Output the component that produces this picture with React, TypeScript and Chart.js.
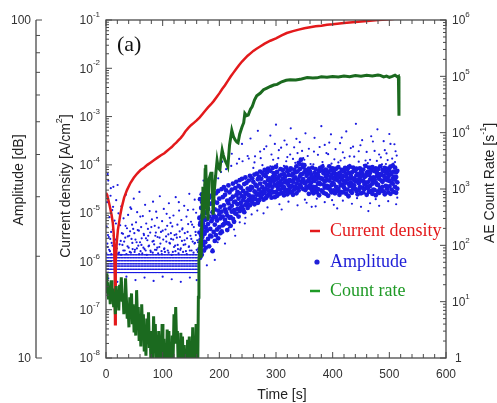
import React, { useEffect, useRef } from 'react';
import { Chart, registerables } from 'chart.js';

Chart.register(...registerables);

// ---------- tick labels ----------
const timeTicks = [0, 100, 200, 300, 400, 500, 600];
const currentExponents = [-8, -7, -6, -5, -4, -3, -2, -1];
const countExponents = [0, 1, 2, 3, 4, 5, 6];
const amplitudeTicks = [10, 100];

// ---------- current density [A/cm2] vs time [s] ----------
const currentDensity: [number, number][] = [
  [0, 2.63e-5], [2, 2.4e-5], [4, 1.91e-5], [6, 1.51e-5], [8, 1.17e-5], [10, 8.9e-6], [12, 6.3e-6],
  [13.5, 4.0e-6], [14.5, 2.0e-6], [15.5, 5.0e-7], [16, 5.0e-8], [16.8, 2.5e-7], [17.5, 1.0e-6],
  [19, 2.5e-6], [21, 4.5e-6], [23, 6.3e-6], [25, 8.9e-6], [28, 1.35e-5], [32, 2.1e-5], [37, 3.0e-5],
  [43, 4.2e-5], [49, 5.4e-5], [55, 6.6e-5], [61, 7.8e-5], [67, 8.7e-5], [73, 1.0e-4], [79, 1.12e-4],
  [85, 1.26e-4], [91, 1.41e-4], [97, 1.58e-4], [103, 1.74e-4], [107, 1.91e-4], [112, 2.14e-4],
  [116, 2.34e-4], [120, 2.63e-4], [124, 2.88e-4], [128, 3.24e-4], [132, 3.63e-4], [136, 4.17e-4],
  [140, 4.9e-4], [145, 5.75e-4], [150, 6.61e-4], [155, 7.41e-4], [160, 8.32e-4], [165, 9.55e-4],
  [170, 1.12e-3], [175, 1.32e-3], [180, 1.55e-3], [185, 1.78e-3], [190, 2.09e-3], [195, 2.51e-3],
  [200, 3.02e-3], [205, 3.72e-3], [210, 4.47e-3], [215, 5.5e-3], [220, 6.76e-3], [225, 8.13e-3],
  [230, 9.77e-3], [235, 1.17e-2], [240, 1.38e-2], [245, 1.58e-2], [250, 1.82e-2], [255, 2.04e-2],
  [260, 2.29e-2], [265, 2.51e-2], [272, 2.82e-2], [280, 3.24e-2], [290, 3.72e-2], [300, 4.17e-2],
  [310, 4.79e-2], [319, 5.37e-2], [330, 5.89e-2], [340, 6.31e-2], [350, 6.76e-2], [360, 7.08e-2],
  [370, 7.41e-2], [380, 7.59e-2], [390, 7.94e-2], [400, 8.13e-2], [420, 8.71e-2], [440, 9.12e-2],
  [461, 9.55e-2], [480, 1.0e-1], [495, 1.02e-1], [506, 1.05e-1], [512, 1.07e-1],
];

// ---------- AE count rate [1/s] vs time [s] ----------
const countRate: [number, number][] = [
  [0, 32], [1.5, 14], [3, 22], [4.5, 11], [6, 18], [7.5, 9], [9, 24], [10.5, 13], [12, 17], [13.5, 8],
  [15, 12], [16.5, 6], [18, 19], [19.5, 10], [21, 15], [22.5, 7], [24, 20], [25.5, 12], [27, 27],
  [28.5, 10], [30, 14], [31.5, 6], [33, 9], [34.5, 26], [36, 11], [37.5, 5], [39, 8], [40.5, 3.5],
  [42, 12], [43.5, 6], [45, 14], [46.5, 4], [48, 9], [49.5, 3], [51, 6], [52.5, 2.5], [54, 16],
  [55.5, 5], [57, 8], [58.5, 2], [60, 5], [61.5, 1.6], [63, 9], [64.5, 3], [66, 6], [67.5, 1.3],
  [69, 3], [70.5, 1.1], [72, 5], [73.5, 2], [75, 6.5], [76.5, 1.5], [78, 2.5], [79.5, 0.7], [81, 3],
  [82.5, 0.9], [84, 5.5], [85.5, 1.4], [87, 4], [88.5, 0.8], [90, 2.5], [91.5, 0.7], [93, 3],
  [94.5, 1.2], [96, 2], [97.5, 0.6], [99, 4], [100.5, 0.8], [102, 2.2], [103.5, 0.6], [105, 1.3],
  [106.5, 0.5], [108, 3.2], [109.5, 1], [111, 3], [112.5, 0.6], [114, 1.6], [115.5, 0.5], [117, 2.5],
  [118.5, 1], [120, 6], [121.5, 1.8], [123, 8], [124.5, 2], [126, 3], [127.5, 0.7], [129, 1.8],
  [130.5, 0.6], [132, 2.8], [133.5, 0.8], [135, 2.4], [136.5, 0.5], [138, 1.7], [139.5, 0.6],
  [141, 1.2], [142.5, 0.5], [144, 2.1], [145.5, 0.7], [147, 2.4], [148.5, 0.5], [150, 1.5],
  [151.5, 0.6], [153, 3.5], [154.5, 0.7], [156, 1.6], [157.5, 0.5], [159, 4], [160.5, 0.6], [162, 0.8],
  [163, 12], [164, 55], [166, 125], [168, 60], [170, 800], [171, 1100], [173, 300], [175, 2200],
  [176, 2700], [178, 600], [180, 280], [182, 1500], [185, 1900], [187, 1900], [189, 350], [191, 900],
  [194, 2000], [196, 3200], [198, 2400], [201, 2200], [203, 3500], [205, 4900], [207, 4000],
  [210, 3200], [213, 2800], [215, 2500], [218, 6000], [222, 11000], [225, 8500], [228, 7400],
  [231, 6800], [233, 6600], [236, 9500], [240, 12600], [243, 15000], [245, 22000], [248, 20000],
  [251, 20500], [255, 26000], [258, 29000], [262, 38000], [266, 45000], [272, 50000], [278, 58000],
  [284, 62000], [290, 66000], [296, 70000], [302, 72000], [310, 80000], [318, 85000], [325, 87000],
  [335, 86000], [345, 90000], [355, 95000], [365, 93000], [372, 94000], [380, 98000], [390, 96000],
  [400, 99000], [410, 97000], [420, 101000], [430, 98000], [440, 103000], [450, 100000],
  [460, 104000], [470, 101000], [480, 106000], [484, 104000], [490, 98000], [495, 101000],
  [500, 96000], [505, 100000], [510, 105000], [514, 98000], [516, 100000], [517, 20000],
];

// ---------- AE amplitude [dB] ----------
// threshold band before ~163 s (many hits at nearly the same level)
const bandTimes = [1, 6, 11, 16, 21, 26, 31, 36, 41, 46, 51, 56, 61, 66, 71, 76, 81, 86, 91, 96, 101,
  106, 111, 116, 121, 126, 131, 136, 141, 146, 151, 156, 161];
const bandLevels = [17.9, 18.3, 18.7, 19.0, 19.4, 19.8, 20.2];

// scattered hits before the jump
const amplitudePre: [number, number][] = [
  [1, 24.5], [2, 28.9], [3, 21.3], [4, 33.5], [5, 22.8], [6, 26.1], [7, 20.7], [8, 30.2], [9, 23.6],
  [10, 21.9], [11, 27.4], [12, 24.0], [13, 32.1], [14, 20.9], [15, 25.5], [17, 22.4], [18, 29.3],
  [19, 21.1], [21, 23.9], [22, 26.8], [23, 20.5], [25, 24.7], [26, 22.2], [27, 28.1], [29, 21.6],
  [30, 23.3], [31, 25.9], [33, 20.8], [34, 22.7], [35, 30.4], [37, 24.2], [38, 21.4], [39, 26.5],
  [41, 23.0], [42, 20.6], [43, 27.9], [45, 22.5], [46, 24.8], [47, 21.0], [49, 29.6], [50, 23.4],
  [51, 20.9], [53, 25.2], [54, 22.0], [55, 27.0], [57, 21.5], [58, 23.8], [59, 31.0], [61, 20.7],
  [62, 24.4], [63, 22.6], [65, 26.3], [66, 21.2], [67, 23.1], [69, 28.4], [70, 20.8], [71, 25.0],
  [73, 22.3], [74, 24.1], [75, 21.4], [77, 27.2], [78, 23.5], [79, 20.6], [81, 25.7], [82, 22.1],
  [83, 29.0], [85, 21.7], [86, 24.6], [87, 23.0], [89, 20.9], [90, 26.0], [91, 22.8], [93, 24.3],
  [94, 21.3], [95, 30.1], [97, 23.6], [98, 20.7], [99, 25.4], [101, 22.4], [102, 27.6], [103, 21.1],
  [105, 24.0], [106, 22.9], [107, 26.7], [109, 20.8], [110, 23.2], [111, 28.7], [113, 21.8],
  [114, 25.1], [115, 22.5], [117, 24.5], [118, 20.6], [119, 26.4], [121, 23.1], [122, 21.5],
  [123, 29.9], [125, 22.7], [126, 24.8], [127, 21.0], [129, 27.3], [130, 23.7], [131, 20.9],
  [133, 25.6], [134, 22.2], [135, 24.2], [137, 21.6], [138, 28.2], [139, 23.4], [141, 20.7],
  [142, 26.2], [143, 22.6], [145, 24.9], [146, 21.3], [147, 30.6], [149, 23.0], [150, 25.3],
  [151, 20.8], [153, 22.1], [154, 27.5], [155, 24.4], [157, 21.9], [158, 23.6], [159, 26.9],
  [161, 22.3], [162, 20.6], [163, 25.8],
  [4, 17.2], [20, 16.8], [36, 17.4], [52, 17.0], [68, 17.3], [84, 16.9], [100, 17.4], [116, 17.1],
  [132, 16.8], [148, 17.3], [160, 17.0],
  [0.5, 20.4], [2.5, 21.8], [3.5, 23.1], [5.5, 20.9], [7.5, 22.5], [9.5, 20.3], [11.5, 21.5],
  [13.5, 23.0], [16, 20.6], [17.5, 25.0], [19.5, 22.0], [21.5, 20.4], [24, 21.7], [26.5, 20.2],
  [28, 23.4], [30.5, 20.8], [32, 22.1], [34.5, 24.6], [36, 20.3], [38.5, 22.9], [40, 21.2],
  [42.5, 23.7], [44, 20.5], [46.5, 21.9], [48, 24.1], [50.5, 20.6], [52, 22.4], [54.5, 21.1],
  [56, 23.9], [58.5, 20.3], [60, 22.0], [62.5, 21.6], [64, 20.4], [66.5, 23.3], [68, 21.0],
  [70.5, 22.6], [72, 20.2], [74.5, 23.0], [76, 21.5], [78.5, 20.8], [80, 24.4], [82.5, 20.5],
  [84, 22.2], [86.5, 20.9], [88, 23.5], [90.5, 21.2], [92, 20.4], [94.5, 22.7], [96, 21.8],
  [98.5, 20.3], [100, 23.8], [102.5, 21.0], [104, 20.6], [106.5, 22.1], [108, 24.6], [110.5, 20.5],
  [112, 21.9], [114.5, 23.4], [116, 20.2], [118.5, 22.4], [120, 21.3], [122.5, 20.7], [124, 23.2],
  [126.5, 21.6], [128, 20.4], [130.5, 22.8], [132, 21.1], [134.5, 24.0], [136, 20.6], [138.5, 22.3],
  [140, 21.7], [142.5, 20.3], [144, 23.6], [146.5, 21.4], [148, 20.8], [150.5, 22.5], [152, 24.8],
  [154.5, 20.5], [156, 21.8], [158.5, 23.1], [160, 20.9], [162.5, 22.0],
  [3, 35.0], [8.5, 31.8], [12.5, 28.0], [20.5, 32.5], [44.5, 27.6], [60.5, 26.2], [88.5, 27.1],
  [112.5, 26.0], [128.5, 28.9], [144.5, 27.4], [156.5, 29.4],
];

// dense cloud after the jump: [time, hit, hit, hit]
const amplitudeCore: [number, number, number, number][] = [
  [165, 21.0, 23.5, 26.0], [166, 19.8, 24.8, 29.5], [167, 22.4, 25.2, 20.6], [168, 23.0, 27.8, 21.5],
  [169, 20.2, 24.0, 30.5], [170, 22.8, 26.4, 28.9], [171, 21.6, 25.0, 23.7], [172, 24.5, 27.2, 22.1],
  [173, 20.8, 26.0, 29.3], [174, 23.3, 28.4, 25.6], [175, 22.0, 24.4, 30.8], [176, 21.2, 26.9, 24.3],
  [178, 23.8, 25.7, 28.2], [180, 22.5, 27.6, 24.9], [182, 21.4, 26.2, 29.8], [184, 24.1, 28.6, 23.0],
  [186, 22.9, 25.4, 30.2], [188, 20.7, 27.0, 25.8], [190, 23.6, 29.1, 26.4], [192, 24.8, 27.5, 22.2],
  [194, 23.1, 26.1, 30.7], [196, 25.5, 28.8, 24.0], [198, 22.6, 27.3, 31.2], [200, 24.4, 29.6, 26.6],
  [202, 25.9, 28.0, 23.4], [204, 23.7, 27.1, 31.6], [206, 26.2, 29.9, 24.7], [208, 24.9, 28.3, 32.0],
  [210, 25.6, 30.4, 27.5], [212, 27.0, 25.1, 31.3], [214, 26.4, 29.2, 23.9], [216, 25.0, 28.7, 32.4],
  [218, 27.7, 30.9, 26.0], [220, 26.1, 29.5, 24.6], [222, 28.2, 31.5, 27.1], [224, 25.8, 30.0, 32.8],
  [226, 27.4, 28.9, 25.3], [228, 29.0, 31.8, 26.8], [230, 26.7, 30.3, 33.2], [232, 28.5, 27.6, 31.0],
  [234, 29.6, 32.3, 26.2], [236, 27.2, 30.7, 33.6], [238, 28.8, 31.9, 27.9], [240, 30.1, 28.1, 33.9],
  [242, 27.5, 31.2, 29.3], [244, 29.9, 32.7, 27.0], [246, 28.4, 30.6, 34.2], [248, 30.8, 29.0, 33.0],
  [250, 28.6, 31.7, 27.8], [252, 30.3, 33.5, 29.4], [254, 31.4, 28.3, 34.6], [256, 29.2, 32.1, 30.0],
  [258, 31.9, 28.9, 34.0], [260, 30.0, 33.2, 29.6], [262, 31.1, 34.9, 28.5], [264, 29.5, 32.6, 30.9],
  [266, 32.2, 30.4, 35.1], [268, 30.6, 33.8, 28.8], [270, 31.5, 29.3, 34.4], [272, 32.8, 30.2, 35.6],
  [274, 30.9, 33.9, 29.9], [276, 32.0, 35.3, 30.5], [278, 31.2, 29.4, 34.8], [280, 33.1, 30.8, 36.0],
  [282, 31.7, 34.5, 29.7], [284, 32.5, 30.1, 35.4], [286, 33.6, 31.4, 36.3], [288, 30.7, 34.0, 32.3],
  [290, 32.9, 35.8, 30.4], [292, 31.3, 33.7, 29.8], [294, 34.3, 32.1, 36.5], [296, 30.9, 33.4, 35.2],
  [298, 32.6, 29.9, 34.7], [300, 33.8, 31.0, 36.8], [302, 32.2, 35.5, 30.2], [304, 31.6, 34.1, 33.0],
  [306, 34.6, 32.4, 30.6], [308, 33.3, 36.2, 31.5], [310, 30.8, 34.9, 32.7], [312, 33.9, 31.9, 36.0],
  [314, 32.0, 35.0, 30.3], [316, 34.4, 33.1, 31.2], [318, 31.4, 36.6, 33.5], [320, 33.0, 30.5, 35.7],
  [322, 34.8, 32.5, 31.1], [324, 31.8, 35.9, 33.6], [326, 33.4, 30.9, 36.4], [328, 32.3, 34.7, 31.0],
  [330, 35.1, 33.2, 30.4], [332, 31.5, 36.1, 33.9], [334, 34.2, 32.0, 35.4], [336, 32.8, 30.7, 36.9],
  [338, 35.6, 33.7, 31.8], [340, 33.5, 37.8, 31.3], [342, 36.2, 34.4, 32.6], [344, 34.9, 38.6, 32.1],
  [346, 37.3, 35.0, 33.2], [348, 33.8, 36.7, 31.6], [350, 35.4, 32.9, 37.2], [352, 33.1, 36.0, 31.4],
  [354, 34.6, 32.2, 35.8], [356, 31.9, 35.1, 33.3], [358, 33.7, 30.6, 36.3], [360, 32.4, 35.6, 34.0],
  [362, 34.9, 31.7, 33.0], [364, 31.2, 34.3, 36.6], [366, 33.6, 32.1, 30.7], [368, 35.3, 33.4, 31.5],
  [370, 32.0, 36.2, 34.5], [372, 33.9, 30.9, 35.0], [374, 31.6, 34.8, 32.8], [376, 35.7, 33.0, 30.3],
  [378, 32.7, 36.5, 34.1], [380, 34.0, 31.3, 35.9], [382, 31.1, 33.8, 36.8], [384, 35.2, 32.6, 30.8],
  [386, 33.3, 35.8, 31.9], [388, 30.6, 34.4, 36.1], [390, 34.7, 32.3, 33.6], [392, 31.8, 35.4, 30.2],
  [394, 33.5, 36.9, 32.0], [396, 35.9, 31.4, 34.3], [398, 32.5, 34.9, 30.9], [400, 34.1, 33.0, 36.4],
  [402, 31.3, 35.5, 32.7], [404, 33.8, 30.7, 35.1], [406, 32.1, 36.3, 34.6], [408, 35.0, 33.6, 31.2],
  [410, 31.7, 34.2, 36.7], [412, 33.2, 30.4, 35.3], [414, 34.8, 32.4, 31.0], [416, 32.6, 36.0, 33.9],
  [418, 30.9, 34.5, 35.8], [420, 35.6, 32.0, 33.4], [422, 33.0, 31.5, 36.5], [424, 34.4, 35.1, 30.6],
  [426, 31.5, 33.7, 36.2], [428, 35.3, 32.8, 30.1], [430, 32.3, 36.8, 34.0], [432, 34.6, 31.1, 33.1],
  [434, 30.8, 35.4, 32.5], [436, 33.9, 36.6, 31.7], [438, 32.4, 34.0, 35.9], [440, 35.8, 31.6, 33.3],
  [442, 31.2, 34.7, 36.3], [444, 33.6, 30.5, 35.0], [446, 34.9, 32.9, 31.4], [448, 32.0, 36.4, 34.2],
  [450, 30.7, 33.5, 35.6], [452, 35.1, 31.9, 34.7], [454, 33.4, 36.1, 30.9], [456, 31.6, 34.3, 32.7],
  [458, 34.5, 37.0, 33.0], [460, 32.2, 35.2, 30.4], [462, 35.5, 33.1, 31.8], [464, 31.0, 34.8, 36.6],
  [466, 33.7, 32.3, 35.3], [468, 35.9, 31.2, 34.1], [470, 32.8, 36.7, 30.6], [472, 34.2, 33.3, 31.5],
  [474, 31.4, 35.7, 33.8], [476, 33.1, 30.3, 36.4], [478, 35.4, 32.6, 34.5], [480, 32.5, 36.2, 31.1],
  [482, 34.7, 33.9, 30.8], [484, 31.8, 35.0, 36.9], [486, 33.5, 31.3, 34.8], [488, 36.0, 32.1, 33.2],
  [490, 31.1, 34.6, 35.7], [492, 33.8, 36.5, 30.5], [494, 32.3, 34.1, 35.5], [496, 35.2, 31.7, 33.6],
  [498, 30.9, 36.3, 34.3], [500, 33.4, 32.2, 35.9], [502, 34.9, 30.6, 36.8], [504, 31.5, 35.3, 33.0],
  [506, 33.9, 32.8, 37.1], [508, 35.6, 31.0, 34.4], [510, 32.1, 36.6, 33.7], [512, 34.3, 30.8, 35.4],
  [514, 31.7, 35.8, 33.1],
];

// sparse hits around the cloud after the jump
const amplitudePost: [number, number][] = [
  [172, 33.5], [180, 31.0], [185, 35.2], [192, 19.5], [198, 34.0], [205, 38.1], [210, 21.8],
  [215, 36.5], [222, 40.2], [228, 23.0], [235, 38.8], [240, 43.0], [245, 25.0], [250, 39.6],
  [255, 44.6], [262, 37.9], [268, 47.0], [272, 40.8], [278, 26.8], [283, 42.3], [290, 45.5],
  [295, 38.6], [300, 49.0], [305, 41.2], [310, 27.5], [315, 44.0], [320, 39.3], [326, 47.8],
  [332, 42.0], [338, 40.4], [342, 43.5], [348, 39.0], [352, 46.2], [358, 41.6], [363, 28.0],
  [368, 44.8], [374, 39.9], [380, 48.5], [386, 42.7], [392, 40.1], [397, 45.9], [403, 38.7],
  [408, 27.7], [413, 43.2], [418, 40.6], [424, 46.8], [430, 39.5], [436, 42.2], [441, 49.3],
  [446, 40.9], [452, 44.1], [458, 38.4], [463, 27.2], [468, 45.3], [474, 41.0], [479, 47.5],
  [485, 39.2], [490, 43.8], [495, 40.3], [500, 46.0], [505, 38.9], [509, 42.9], [513, 39.7],
  [302, 37.5], [318, 38.2], [334, 37.8], [350, 38.6], [366, 37.4], [382, 38.0], [398, 37.6],
  [414, 38.4], [430, 37.3], [446, 38.1], [462, 37.7], [478, 38.3], [494, 37.5], [510, 38.0],
  [260, 36.5], [276, 37.2], [290, 36.9],
  [306, 28.5], [322, 29.0], [338, 28.3], [354, 28.8], [370, 28.1], [386, 28.9], [402, 28.4],
  [418, 29.2], [434, 28.6], [450, 28.0], [466, 28.7], [482, 28.2], [498, 29.1], [512, 28.5],
  [168, 28.0], [174, 32.5], [178, 18.8], [183, 33.8], [188, 21.0], [193, 34.6], [197, 22.0],
  [203, 35.5], [207, 23.5], [212, 36.2], [217, 24.3], [221, 37.0], [226, 24.0], [231, 37.6],
  [236, 25.2], [241, 38.2], [246, 26.0], [252, 38.9], [257, 26.6], [263, 39.5], [267, 27.3],
  [273, 39.0], [279, 41.5], [285, 27.9], [292, 40.0], [298, 43.0], [304, 39.0], [309, 41.9],
  [314, 37.0], [319, 42.8], [325, 40.0], [330, 38.8], [336, 44.5], [341, 37.1], [346, 41.0],
  [351, 29.4], [356, 39.6], [361, 37.5], [367, 40.8], [372, 29.6], [377, 42.1], [383, 37.3],
  [389, 40.4], [394, 43.4], [399, 29.3], [405, 41.5], [410, 37.9], [416, 44.9], [421, 39.1],
  [427, 37.0], [432, 41.8], [438, 39.4], [443, 29.7], [449, 42.6], [455, 37.2], [460, 40.7],
  [466, 38.6], [471, 43.7], [476, 29.5], [482, 40.0], [487, 37.4], [492, 41.2], [497, 38.5],
  [502, 43.0], [507, 37.6], [511, 40.9], [514, 29.8],
];

// ---------- styling ----------
const RED = '#e3191b';
const GREEN = '#1b6a1f';
const BLUE = '#1a1ae0';
const AXIS = '#4a4a4a';
const TEXT = '#333333';
const SANS = '"Liberation Sans", Arial, Helvetica, sans-serif';
const SERIF = '"Liberation Serif", "Times New Roman", serif';

type Run = [string, boolean];

function drawRuns(
  ctx: CanvasRenderingContext2D, runs: Run[], x: number, y: number,
  align: 'left' | 'right' | 'center', rotate: boolean, size: number, supSize: number, raise: number,
) {
  ctx.save();
  ctx.translate(x, y);
  if (rotate) ctx.rotate(-Math.PI / 2);
  ctx.textBaseline = 'middle';
  ctx.textAlign = 'left';
  const widths = runs.map(([t, s]) => {
    ctx.font = `${s ? supSize : size}px ${SANS}`;
    return ctx.measureText(t).width;
  });
  const total = widths.reduce((a, b) => a + b, 0);
  let cx = align === 'left' ? 0 : align === 'right' ? -total : -total / 2;
  runs.forEach(([t, s], i) => {
    ctx.font = `${s ? supSize : size}px ${SANS}`;
    ctx.fillText(t, cx, s ? -raise : 0);
    cx += widths[i];
  });
  ctx.restore();
}

const decorPlugin = {
  id: 'decor',
  afterDatasetsDraw(chart: any) {
    const ctx: CanvasRenderingContext2D = chart.ctx;
    const { left, right, top, bottom } = chart.chartArea;
    const sx = chart.scales.x;
    const sJ = chart.scales.yJ;
    const sA = chart.scales.yA;
    const sC = chart.scales.yC;
    const seg = (x1: number, y1: number, x2: number, y2: number) => {
      ctx.beginPath();
      ctx.moveTo(x1, y1);
      ctx.lineTo(x2, y2);
      ctx.stroke();
    };
    ctx.save();
    ctx.strokeStyle = AXIS;
    ctx.lineWidth = 1.3;
    ctx.strokeRect(left, top, right - left, bottom - top);
    ctx.lineWidth = 1;

    // time ticks (inward, bottom and top)
    for (let v = 0; v <= 600; v += 20) {
      const px = sx.getPixelForValue(v);
      const len = v % 100 === 0 ? 6 : 4;
      seg(px, bottom, px, bottom - len);
      seg(px, top, px, top + len);
    }
    // current density ticks (left edge, inward)
    currentExponents.forEach((e) => {
      const py = sJ.getPixelForValue(Math.pow(10, e));
      seg(left, py, left + 6, py);
      if (e < -1) {
        for (let m = 2; m <= 9; m++) {
          const p = sJ.getPixelForValue(m * Math.pow(10, e));
          seg(left, p, left + 3, p);
        }
      }
    });
    // count rate ticks (right edge, inward)
    countExponents.forEach((e) => {
      const py = sC.getPixelForValue(Math.pow(10, e));
      seg(right, py, right - 6, py);
      if (e < 6) {
        for (let m = 2; m <= 9; m++) {
          const p = sC.getPixelForValue(m * Math.pow(10, e));
          seg(right, p, right - 3, p);
        }
      }
    });
    // amplitude axis (outer left)
    const ax = 36;
    ctx.lineWidth = 1.3;
    seg(ax, top, ax, bottom);
    ctx.lineWidth = 1;
    amplitudeTicks.forEach((v) => {
      const p = sA.getPixelForValue(v);
      seg(ax, p, ax + 6, p);
    });
    for (let m = 20; m <= 90; m += 10) {
      const p = sA.getPixelForValue(m);
      seg(ax, p, ax + 4, p);
    }

    // tick labels
    ctx.fillStyle = TEXT;
    ctx.font = `12px ${SANS}`;
    ctx.textAlign = 'center';
    ctx.textBaseline = 'middle';
    timeTicks.forEach((v) => ctx.fillText(String(v), sx.getPixelForValue(v), 375));
    currentExponents.forEach((e) => {
      const py = sJ.getPixelForValue(Math.pow(10, e));
      drawRuns(ctx, [['10', false], [String(e), true]], 100, py + 1, 'right', false, 12, 8, 6);
    });
    countExponents.forEach((e) => {
      const py = sC.getPixelForValue(Math.pow(10, e));
      const runs: Run[] = e === 0 ? [['1', false]] : [['10', false], [String(e), true]];
      drawRuns(ctx, runs, e === 0 ? 455 : 452, py + 1, 'left', false, 12, 8, 6);
    });
    amplitudeTicks.forEach((v) => {
      const py = sA.getPixelForValue(v);
      ctx.font = `12px ${SANS}`;
      ctx.textAlign = 'right';
      ctx.fillText(String(v), 31, py + 1);
    });

    // axis titles
    ctx.fillStyle = '#222222';
    drawRuns(ctx, [['Time [s]', false]], 282, 395, 'center', false, 14, 9, 6);
    drawRuns(ctx, [['Amplitude [dB]', false]], 19, 180, 'center', true, 14, 9, 6);
    drawRuns(ctx, [['Current density [A/cm', false], ['2', true], [']', false]], 66, 186, 'center', true, 14, 9, 6);
    drawRuns(ctx, [['AE Count Rate [s', false], ['-1', true], [']', false]], 490, 183, 'center', true, 14, 9, 6);

    // panel label
    ctx.fillStyle = '#111111';
    ctx.font = `22px ${SERIF}`;
    ctx.textAlign = 'left';
    ctx.textBaseline = 'middle';
    ctx.fillText('(a)', 117, 45);

    // legend
    const legendItems: [string, string, 'line' | 'dot', number][] = [
      ['Current density', RED, 'line', 231],
      ['Amplitude', '#2020d8', 'dot', 262],
      ['Count rate', '#1f9a26', 'line', 291],
    ];
    legendItems.forEach(([label, color, kind, y]) => {
      ctx.fillStyle = color;
      ctx.strokeStyle = color;
      if (kind === 'line') {
        ctx.lineWidth = 2.5;
        seg(310, y, 320, y);
      } else {
        ctx.beginPath();
        ctx.arc(317, y, 2.6, 0, Math.PI * 2);
        ctx.fill();
      }
      ctx.font = `18px ${SERIF}`;
      ctx.textAlign = 'left';
      ctx.fillText(label, 330, y);
    });
    ctx.restore();
  },
};

export default function App() {
  const canvasRef = useRef<HTMLCanvasElement | null>(null);

  useEffect(() => {
    if (!canvasRef.current) return;
    const toXY = (rows: [number, number][]) => rows.map(([x, y]) => ({ x, y }));
    const coreHits = amplitudeCore.flatMap(([t, a, b, c]) => [
      { x: t, y: a }, { x: t, y: b }, { x: t, y: c },
    ]);
    const bandHits = bandLevels.flatMap((lvl) => bandTimes.map((t) => ({ x: t, y: lvl })));

    const chart = new Chart(canvasRef.current, {
      type: 'scatter',
      data: {
        datasets: [
          {
            label: 'Count rate',
            data: toXY(countRate),
            xAxisID: 'x',
            yAxisID: 'yC',
            showLine: true,
            borderColor: GREEN,
            borderWidth: 3,
            pointRadius: 0,
            tension: 0,
            order: 0,
          },
          {
            label: 'Current density',
            data: toXY(currentDensity),
            xAxisID: 'x',
            yAxisID: 'yJ',
            showLine: true,
            borderColor: RED,
            borderWidth: 2.5,
            pointRadius: 0,
            tension: 0,
            order: 1,
          },
          {
            label: 'Amplitude',
            data: coreHits,
            xAxisID: 'x',
            yAxisID: 'yA',
            pointRadius: 2.4,
            pointBorderWidth: 0,
            pointBackgroundColor: BLUE,
            order: 2,
          },
          {
            label: 'Amplitude sparse',
            data: [...toXY(amplitudePre), ...toXY(amplitudePost)],
            xAxisID: 'x',
            yAxisID: 'yA',
            pointRadius: 1.1,
            pointBorderWidth: 0,
            pointBackgroundColor: BLUE,
            order: 3,
          },
          {
            label: 'Amplitude band',
            data: bandHits,
            xAxisID: 'x',
            yAxisID: 'yA',
            pointStyle: 'line',
            pointRadius: 2.6,
            pointBorderWidth: 1.1,
            pointBorderColor: BLUE,
            order: 4,
          },
        ],
      },
      options: {
        responsive: false,
        animation: false,
        events: [],
        layout: { padding: { left: 106, right: 51, top: 20, bottom: 45 } },
        plugins: { legend: { display: false }, tooltip: { enabled: false } },
        scales: {
          x: { type: 'linear', min: 0, max: 600, display: false },
          yJ: { type: 'logarithmic', min: 1e-8, max: 1e-1, display: false },
          yA: { type: 'logarithmic', min: 10, max: 100, display: false },
          yC: { type: 'logarithmic', min: 1, max: 1e6, display: false },
        },
      } as any,
      plugins: [decorPlugin],
    });
    return () => chart.destroy();
  }, []);

  return (
    <div style={{ position: 'fixed', left: 0, top: 0, width: 497, height: 403, background: '#fff' }}>
      <canvas ref={canvasRef} width={497} height={403} style={{ display: 'block' }} />
    </div>
  );
}
